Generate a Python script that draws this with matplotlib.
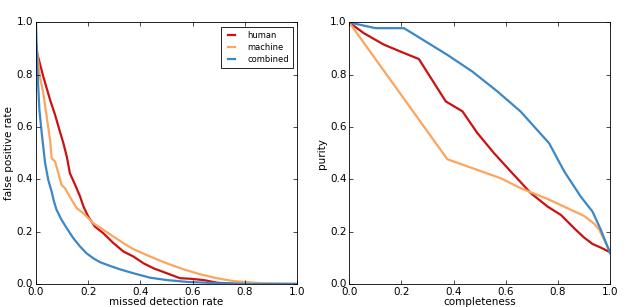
import matplotlib
matplotlib.use("Agg")
import matplotlib.pyplot as plt

# left panel: missed detection rate vs false positive rate
human_mdr = [0.0, 0.005, 0.028, 0.054, 0.073, 0.086, 0.105, 0.118, 0.130, 0.150, 0.169, 0.182,
             0.200, 0.226, 0.258, 0.297, 0.335, 0.373, 0.412, 0.450, 0.501, 0.552, 0.590,
             0.642, 0.693, 0.757, 0.880, 1.0]
human_fpr = [0.92, 0.88, 0.793, 0.704, 0.647, 0.602, 0.538, 0.487, 0.423, 0.379, 0.334, 0.296,
             0.258, 0.219, 0.194, 0.156, 0.124, 0.105, 0.079, 0.060, 0.041, 0.022, 0.020,
             0.015, 0.005, 0.001, 0.0, 0.0]

machine_mdr = [0.0, 0.003, 0.015, 0.028, 0.041, 0.054, 0.060, 0.073, 0.086, 0.098, 0.111, 0.137,
               0.156, 0.182, 0.220, 0.258, 0.297, 0.335, 0.373, 0.437, 0.501, 0.565, 0.629,
               0.693, 0.757, 0.860, 1.0]
machine_fpr = [0.92, 0.895, 0.793, 0.730, 0.640, 0.551, 0.481, 0.468, 0.423, 0.379, 0.366, 0.321,
               0.290, 0.270, 0.232, 0.207, 0.181, 0.156, 0.133, 0.105, 0.079, 0.056, 0.037,
               0.022, 0.011, 0.003, 0.0]

combined_mdr = [0.0, 0.005, 0.013, 0.022, 0.035, 0.047, 0.060, 0.069, 0.079, 0.098, 0.118, 0.143,
                0.169, 0.194, 0.220, 0.246, 0.284, 0.322, 0.373, 0.437, 0.501, 0.578, 0.693,
                0.820, 1.0]
combined_fpr = [1.0, 0.83, 0.666, 0.577, 0.462, 0.398, 0.353, 0.315, 0.283, 0.245, 0.213, 0.175,
                0.143, 0.117, 0.098, 0.083, 0.069, 0.056, 0.041, 0.024, 0.015, 0.008, 0.003,
                0.0, 0.0]

# right panel: completeness vs purity
human_comp = [0.0, 0.056, 0.133, 0.210, 0.267, 0.370, 0.434, 0.491, 0.555, 0.619, 0.696, 0.760,
              0.811, 0.862, 0.898, 0.932, 0.964, 1.0]
human_pur = [1.0, 0.959, 0.915, 0.883, 0.860, 0.698, 0.660, 0.577, 0.500, 0.430, 0.347, 0.296,
             0.264, 0.213, 0.179, 0.153, 0.139, 0.121]

machine_comp = [0.0, 0.376, 0.581, 0.657, 0.760, 0.836, 0.900, 0.939, 0.958, 1.0]
machine_pur = [1.0, 0.477, 0.404, 0.366, 0.325, 0.290, 0.260, 0.230, 0.207, 0.121]

combined_comp = [0.0, 0.101, 0.210, 0.376, 0.472, 0.568, 0.657, 0.766, 0.824, 0.887, 0.932, 0.964, 1.0]
combined_pur = [1.0, 0.978, 0.978, 0.876, 0.812, 0.736, 0.659, 0.538, 0.430, 0.334, 0.277, 0.207, 0.117]

red = '#cc1111'
orange = '#fca55d'
blue = '#3a88c8'

plt.style.use('classic')
plt.rcParams['font.family'] = ['DejaVu Sans']

fig = plt.figure(figsize=(6.28, 3.07), dpi=100, facecolor='white')
ax1 = fig.add_axes([0.0573, 0.075, 0.4157, 0.852])
ax2 = fig.add_axes([0.556, 0.075, 0.4157, 0.852])

ax1.plot(human_mdr, human_fpr, color=red, lw=1.6, label='human')
ax1.plot(machine_mdr, machine_fpr, color=orange, lw=1.6, label='machine')
ax1.plot(combined_mdr, combined_fpr, color=blue, lw=1.6, label='combined')
ax1.set_xlabel('missed detection rate', fontsize=7.5, labelpad=0)
ax1.set_ylabel('false positive rate', fontsize=7.5, labelpad=2)
leg = ax1.legend(loc='upper right', fontsize=6, handlelength=1.5, borderpad=0.5,
                 labelspacing=0.35, handletextpad=1.1, borderaxespad=0.5)
leg.get_frame().set_linewidth(0.6)

ax2.plot(human_comp, human_pur, color=red, lw=1.6)
ax2.plot(machine_comp, machine_pur, color=orange, lw=1.6)
ax2.plot(combined_comp, combined_pur, color=blue, lw=1.6)
ax2.set_xlabel('completeness', fontsize=7.5, labelpad=0)
ax2.set_ylabel('purity', fontsize=7.5, labelpad=2)

for ax in (ax1, ax2):
    ax.set_xlim(0, 1)
    ax.set_ylim(0, 1)
    ax.set_xticks([0, 0.2, 0.4, 0.6, 0.8, 1.0])
    ax.set_yticks([0, 0.2, 0.4, 0.6, 0.8, 1.0])
    ax.tick_params(labelsize=7.5, direction='in', length=3, width=0.5, pad=2)
    for s in ax.spines.values():
        s.set_linewidth(0.6)

fig.savefig('out.png', dpi=100, facecolor='white')
